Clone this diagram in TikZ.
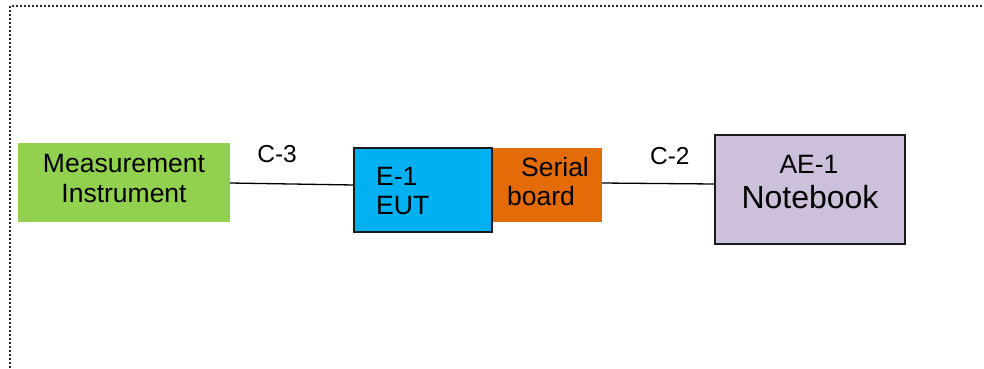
\documentclass[tikz,border=0pt]{standalone}
\usepackage{fontspec}
\setmainfont{Liberation Sans}
\definecolor{cgreen}{HTML}{92D050}
\definecolor{cblue}{HTML}{00B0F0}
\definecolor{corange}{HTML}{E36C09}
\definecolor{cpurple}{HTML}{CCC0DA}
\definecolor{cborder}{HTML}{1A1A1A}
\begin{document}
\begin{tikzpicture}[x=1pt,y=-1pt,
  box/.style={inner sep=0pt, outer sep=0pt},
  framed/.style={box, draw=cborder, line width=1.5pt},
  lbl/.style={inner sep=0pt, anchor=base, font=\fontsize{26.5}{30}\selectfont},
  smlbl/.style={inner sep=0pt, anchor=base, font=\fontsize{24.5}{28}\selectfont},
  biglbl/.style={inner sep=0pt, anchor=base, font=\fontsize{32}{36}\selectfont},
  wire/.style={line width=1.3pt, black},
  border/.style={draw=black!85, line width=2pt, dash pattern=on 2pt off 2pt}]
\useasboundingbox (0,0) rectangle (984,368);
\draw[border] (10,368) -- (10,6) -- (984,6);
% boxes
\node[box, fill=cgreen, minimum width=212pt, minimum height=79pt] (mi) at (124,182.5) {};
\node[box, fill=corange, minimum width=110pt, minimum height=74pt] (sb) at (547,185) {};
\node[framed, fill=cblue, minimum width=138pt, minimum height=84pt] (eut) at (423,190) {};
\node[framed, fill=cpurple, minimum width=190pt, minimum height=109pt] (nb) at (810,189.5) {};
% texts
\node[lbl] (t1) at (124,172) {Measurement};
\node[lbl] (t2) at (124,202) {Instrument};
\node[lbl, anchor=base west] (t3) at (376,185) {E-1};
\node[lbl, anchor=base west] (t4) at (376,214) {EUT};
\node[lbl] (t5) at (555,176) {Serial};
\node[lbl] (t6) at (541,205) {board};
\node[lbl] (t7) at (809,173) {AE-1};
\node[biglbl] (t8) at (810,208) {Notebook};
% connectors
\draw[wire] ([yshift=-0.5pt]mi.east) -- node[smlbl, pos=0.38, yshift=21pt] (c3) {C-3} ([yshift=5pt]eut.west);
\draw[wire] ([yshift=2pt]sb.east) -- node[smlbl, pos=0.6, yshift=19pt] (c2) {C-2} ([yshift=5.5pt]nb.west);
\end{tikzpicture}
\end{document}
